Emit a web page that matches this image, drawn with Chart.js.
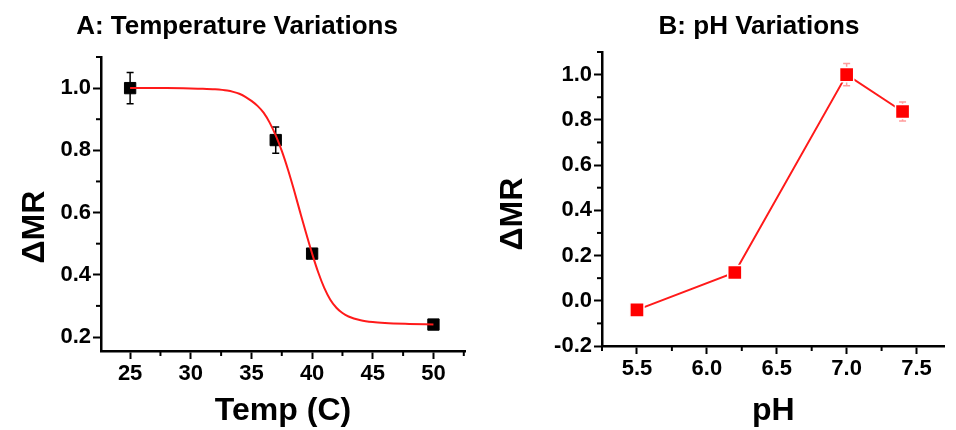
<!DOCTYPE html>
<html>
<head>
<meta charset="utf-8">
<script src="https://cdn.jsdelivr.net/npm/chart.js@4.4.0/dist/chart.umd.min.js"></script>
<style>
  html, body { margin: 0; padding: 0; background: #fff; }
  #wrap { position: relative; width: 956px; height: 430px; overflow: hidden; background: #fff; }
  canvas { position: absolute; top: 0; }
</style>
</head>
<body>
<div id="wrap">
  <canvas id="cA" width="480" height="430" style="left:0px;width:480px;height:430px"></canvas>
  <canvas id="cB" width="476" height="430" style="left:480px;width:476px;height:430px"></canvas>
</div>
<script>
// ---- Panel A: temperature ----
const tempC      = [25, 37, 40, 50];
const mrTemp     = [1.0, 0.833, 0.468, 0.24];
const mrTempErr  = [0.05, 0.042, 0, 0];
// fitted curve
const fitTemp    = [25, 28, 30, 31, 32, 33, 33.5, 34, 34.5, 35, 35.5, 36, 36.5, 37, 37.5, 38, 38.5, 39, 39.5, 40, 40.5, 41, 41.5, 42, 42.5, 43, 44, 45, 46, 48, 50];
const fitMr      = [1.0, 1.0, 0.999, 0.998, 0.996, 0.992, 0.988, 0.982, 0.972, 0.959, 0.943, 0.921, 0.889, 0.848, 0.798, 0.739, 0.673, 0.603, 0.534, 0.468, 0.408, 0.358, 0.32, 0.294, 0.277, 0.266, 0.254, 0.248, 0.245, 0.242, 0.24];
const xTicksA    = [25, 30, 35, 40, 45, 50];
const yTicksA    = [0.2, 0.4, 0.6, 0.8, 1.0];

// ---- Panel B: pH ----
const phValues   = [5.5, 6.2, 7.0, 7.4];
const mrPh       = [-0.04, 0.125, 1.0, 0.837];
const mrPhErr    = [0, 0, 0.049, 0.042];
const xTicksB    = [5.5, 6.0, 6.5, 7.0, 7.5];
const yTicksB    = [-0.2, 0.0, 0.2, 0.4, 0.6, 0.8, 1.0];

const FONT = "'Liberation Sans', Arial, Helvetica, sans-serif";
Chart.defaults.font.family = FONT;
Chart.defaults.color = '#000';

function pts(xs, ys) { return xs.map((x, i) => ({ x: x, y: ys[i] })); }

function panelText(cfg) {
  return {
    id: 'panelText',
    afterDraw(chart) {
      const ctx = chart.ctx;
      ctx.save();
      ctx.fillStyle = '#000';
      ctx.textAlign = 'center';
      ctx.textBaseline = 'middle';
      ctx.font = 'bold 26px ' + FONT;
      ctx.fillText(cfg.title, cfg.titleX, cfg.titleY);
      ctx.translate(cfg.yTitleX, cfg.yTitleY);
      ctx.rotate(-Math.PI / 2);
      ctx.font = 'bold 32px ' + FONT;
      ctx.fillText(cfg.yTitle, 0, 0);
      ctx.restore();
    }
  };
}

const minorTicks = {
  id: 'minorTicks',
  afterDraw(chart) {
    const ctx = chart.ctx;
    ctx.save();
    ctx.strokeStyle = '#000';
    ctx.lineWidth = 2;
    ['x', 'y'].forEach(id => {
      const s = chart.scales[id];
      const t = s.ticks.map(k => k.value);
      const step = t[1] - t[0];
      for (let k = -1; k <= t.length; k++) {
        const v = t[0] + (k + 0.5) * step;
        if (v < s.min - 1e-9 || v > s.max + 1e-9) continue;
        const p = s.getPixelForValue(v);
        ctx.beginPath();
        if (id === 'x') { ctx.moveTo(p, s.top); ctx.lineTo(p, s.top + 5); }
        else { ctx.moveTo(s.right, p); ctx.lineTo(s.right - 5, p); }
        ctx.stroke();
      }
    });
    ctx.restore();
  }
};

function errorBars(xs, ys, errs, color) {
  return {
    id: 'errorBars',
    beforeDatasetsDraw(chart) {
      const sx = chart.scales.x, sy = chart.scales.y, ctx = chart.ctx;
      ctx.save();
      ctx.strokeStyle = color;
      ctx.lineWidth = 1.5;
      xs.forEach((xv, i) => {
        const e = errs[i];
        if (!e) return;
        const px = sx.getPixelForValue(xv);
        const top = sy.getPixelForValue(ys[i] + e);
        const bot = sy.getPixelForValue(ys[i] - e);
        ctx.beginPath();
        ctx.moveTo(px, top); ctx.lineTo(px, bot);
        ctx.moveTo(px - 3.5, top); ctx.lineTo(px + 3.5, top);
        ctx.moveTo(px - 3.5, bot); ctx.lineTo(px + 3.5, bot);
        ctx.stroke();
      });
      ctx.restore();
    }
  };
}

function axis(opts) {
  return {
    type: 'linear',
    position: opts.position,
    min: opts.min,
    max: opts.max,
    afterBuildTicks(scale) { scale.ticks = opts.ticks.map(v => ({ value: v })); },
    afterFit(scale) {
      if (opts.position === 'bottom') scale.height = opts.size; else scale.width = opts.size;
    },
    ticks: {
      autoSkip: false,
      maxRotation: 0,
      padding: opts.pad,
      color: '#000',
      font: { size: 22, weight: 'bold' },
      callback: opts.fmt
    },
    grid: {
      drawOnChartArea: false,
      drawTicks: true,
      tickLength: 8,
      tickWidth: 2,
      tickColor: '#000'
    },
    border: { display: true, color: '#000', width: 2.5 },
    title: opts.title ? {
      display: true,
      text: opts.title,
      color: '#000',
      font: { size: 32, weight: 'bold' },
      padding: { top: 0, bottom: opts.titlePad }
    } : { display: false }
  };
}

// Panel A
new Chart(document.getElementById('cA'), {
  type: 'scatter',
  data: {
    datasets: [
      {
        label: 'data',
        data: pts(tempC, mrTemp),
        order: 2,
        showLine: false,
        pointStyle: 'rect',
        pointRadius: 8,
        pointBorderWidth: 1,
        pointBackgroundColor: '#000',
        pointBorderColor: '#000'
      },
      {
        label: 'fit',
        data: pts(fitTemp, fitMr),
        order: 1,
        showLine: true,
        cubicInterpolationMode: 'monotone',
        borderColor: '#ff1a1a',
        borderWidth: 2,
        pointRadius: 0,
        fill: false
      }
    ]
  },
  options: {
    responsive: false,
    animation: false,
    devicePixelRatio: 1,
    layout: { padding: { left: 0, right: 15, top: 57, bottom: 0 } },
    plugins: { legend: { display: false }, tooltip: { enabled: false }, title: { display: false } },
    scales: {
      x: axis({ position: 'bottom', min: 22.6, max: 52.6, ticks: xTicksA, size: 79, pad: 2,
                fmt: v => String(v), title: 'Temp (C)', titlePad: 0 }),
      y: axis({ position: 'left', min: 0.155, max: 1.10, ticks: yTicksA, size: 101, pad: 2,
                fmt: v => v.toFixed(1) })
    }
  },
  plugins: [
    minorTicks,
    errorBars(tempC, mrTemp, mrTempErr, '#000'),
    panelText({ title: 'A: Temperature Variations', titleX: 237, titleY: 27, yTitle: '\u0394MR', yTitleX: 35, yTitleY: 227 })
  ]
});

// Panel B
new Chart(document.getElementById('cB'), {
  type: 'scatter',
  data: {
    datasets: [
      {
        label: 'pH',
        data: pts(phValues, mrPh),
        showLine: true,
        borderColor: '#ff1a1a',
        borderWidth: 2,
        pointStyle: 'rect',
        pointRadius: 10,
        pointBorderWidth: 1.5,
        pointBackgroundColor: '#ff0000',
        pointBorderColor: '#ffffff',
        fill: false
      }
    ]
  },
  options: {
    responsive: false,
    animation: false,
    devicePixelRatio: 1,
    layout: { padding: { left: 0, right: 0, top: 52, bottom: 0 } },
    plugins: { legend: { display: false }, tooltip: { enabled: false }, title: { display: false } },
    scales: {
      x: axis({ position: 'bottom', min: 5.25, max: 7.70, ticks: xTicksB, size: 84, pad: 2,
                fmt: v => v.toFixed(1), title: 'pH', titlePad: 0 }),
      y: axis({ position: 'left', min: -0.2, max: 1.10, ticks: yTicksB, size: 122, pad: 2,
                fmt: v => v.toFixed(1) })
    }
  },
  plugins: [
    minorTicks,
    errorBars(phValues, mrPh, mrPhErr, '#ff9c9c'),
    panelText({ title: 'B: pH Variations', titleX: 279, titleY: 27, yTitle: '\u0394MR', yTitleX: 33, yTitleY: 214 })
  ]
});
</script>
</body>
</html>
